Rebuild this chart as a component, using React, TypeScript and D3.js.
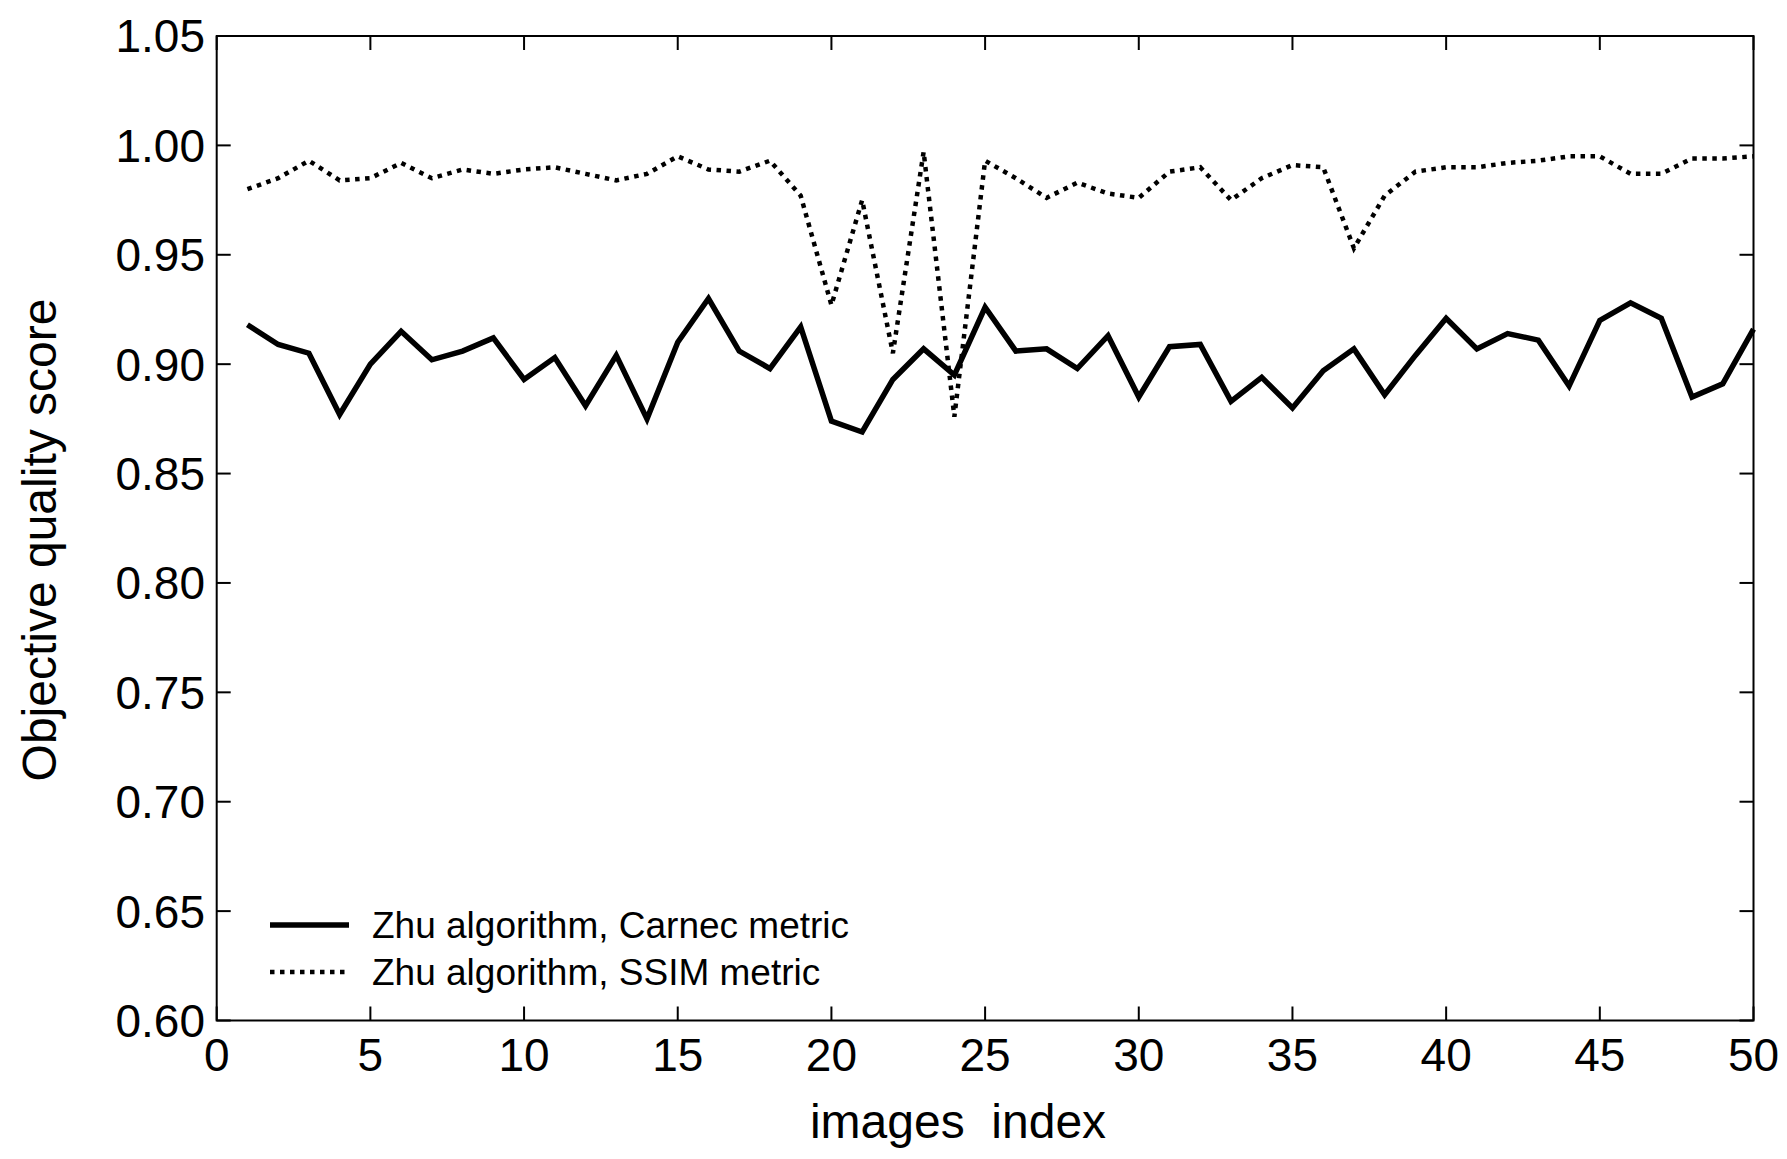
import React from "react";
import * as d3 from "d3";

const imageIndex: number[] = d3.range(1, 51);

const carnecScores: number[] = [
  0.918, 0.909, 0.905, 0.877, 0.900, 0.915, 0.902, 0.906, 0.912, 0.893,
  0.903, 0.881, 0.904, 0.875, 0.910, 0.930, 0.906, 0.898, 0.917, 0.874,
  0.869, 0.893, 0.907, 0.895, 0.926, 0.906, 0.907, 0.898, 0.913, 0.885,
  0.908, 0.909, 0.883, 0.894, 0.880, 0.897, 0.907, 0.886, 0.904, 0.921,
  0.907, 0.914, 0.911, 0.890, 0.920, 0.928, 0.921, 0.885, 0.891, 0.916,
];

const ssimScores: number[] = [
  0.980, 0.985, 0.993, 0.984, 0.985, 0.992, 0.985, 0.989, 0.987, 0.989,
  0.990, 0.987, 0.984, 0.987, 0.995, 0.989, 0.988, 0.993, 0.977, 0.927,
  0.975, 0.905, 0.997, 0.876, 0.993, 0.985, 0.976, 0.983, 0.978, 0.976,
  0.988, 0.990, 0.975, 0.985, 0.991, 0.990, 0.953, 0.977, 0.988, 0.990,
  0.990, 0.992, 0.993, 0.995, 0.995, 0.987, 0.987, 0.994, 0.994, 0.995,
];

const xTicks: number[] = [0, 5, 10, 15, 20, 25, 30, 35, 40, 45, 50];
const yTicks: number[] = [0.6, 0.65, 0.7, 0.75, 0.8, 0.85, 0.9, 0.95, 1.0, 1.05];

const legendLabels: string[] = [
  "Zhu algorithm, Carnec metric",
  "Zhu algorithm, SSIM metric",
];
const xLabel = "images  index";
const yLabel = "Objective quality score";

const W = 1787;
const H = 1159;
const left = 216.7;
const right = 1753.5;
const top = 36;
const bottom = 1020.5;
const FONT = "'Liberation Sans', Arial, Helvetica, sans-serif";

export default function App() {
  const x = d3.scaleLinear().domain([0, 50]).range([left, right]);
  const y = d3.scaleLinear().domain([0.6, 1.05]).range([bottom, top]);

  const line = d3
    .line<number>()
    .x((_, i) => x(imageIndex[i]))
    .y((d) => y(d));

  const tickLen = 14;
  const tickFont = 46;

  return (
    <svg
      width={W}
      height={H}
      viewBox={`0 0 ${W} ${H}`}
      style={{ position: "absolute", left: 0, top: 0, display: "block", background: "#fff" }}
    >
      <rect x={0} y={0} width={W} height={H} fill="#fff" />

      {/* data lines */}
      <path
        d={line(ssimScores) || ""}
        fill="none"
        stroke="#000"
        strokeWidth={4.5}
        strokeDasharray="4.5 5.5"
        strokeLinejoin="miter"
      />
      <path
        d={line(carnecScores) || ""}
        fill="none"
        stroke="#000"
        strokeWidth={5.5}
        strokeLinejoin="miter"
        strokeMiterlimit={10}
      />

      {/* frame */}
      <rect
        x={left}
        y={top}
        width={right - left}
        height={bottom - top}
        fill="none"
        stroke="#000"
        strokeWidth={2}
      />

      {/* x ticks */}
      {xTicks.map((t) => (
        <g key={`xt${t}`}>
          <line x1={x(t)} x2={x(t)} y1={bottom} y2={bottom - tickLen} stroke="#000" strokeWidth={2} />
          <line x1={x(t)} x2={x(t)} y1={top} y2={top + tickLen} stroke="#000" strokeWidth={2} />
          <text
            x={x(t)}
            y={1071}
            textAnchor="middle"
            fontFamily={FONT}
            fontSize={tickFont}
            fill="#000"
          >
            {t}
          </text>
        </g>
      ))}

      {/* y ticks */}
      {yTicks.map((t) => (
        <g key={`yt${t}`}>
          <line x1={left} x2={left + tickLen} y1={y(t)} y2={y(t)} stroke="#000" strokeWidth={2} />
          <line x1={right} x2={right - tickLen} y1={y(t)} y2={y(t)} stroke="#000" strokeWidth={2} />
          <text
            x={205}
            y={y(t) + tickFont * 0.358}
            textAnchor="end"
            fontFamily={FONT}
            fontSize={tickFont}
            fill="#000"
          >
            {d3.format(".2f")(t)}
          </text>
        </g>
      ))}

      {/* axis labels */}
      <text
        x={958}
        y={1138}
        textAnchor="middle"
        fontFamily={FONT}
        fontSize={48}
        fill="#000"
        style={{ whiteSpace: "pre" }}
      >
        {xLabel}
      </text>
      <text
        transform="translate(56,540) rotate(-90)"
        textAnchor="middle"
        fontFamily={FONT}
        fontSize={48}
        fill="#000"
      >
        {yLabel}
      </text>

      {/* legend */}
      <line x1={270} x2={349} y1={925} y2={925} stroke="#000" strokeWidth={5.5} />
      <line x1={270} x2={349} y1={972} y2={972} stroke="#000" strokeWidth={4.5} strokeDasharray="4.5 5.5" />
      <text x={372} y={938} fontFamily={FONT} fontSize={37} fill="#000">
        {legendLabels[0]}
      </text>
      <text x={372} y={985} fontFamily={FONT} fontSize={37} fill="#000">
        {legendLabels[1]}
      </text>
    </svg>
  );
}
